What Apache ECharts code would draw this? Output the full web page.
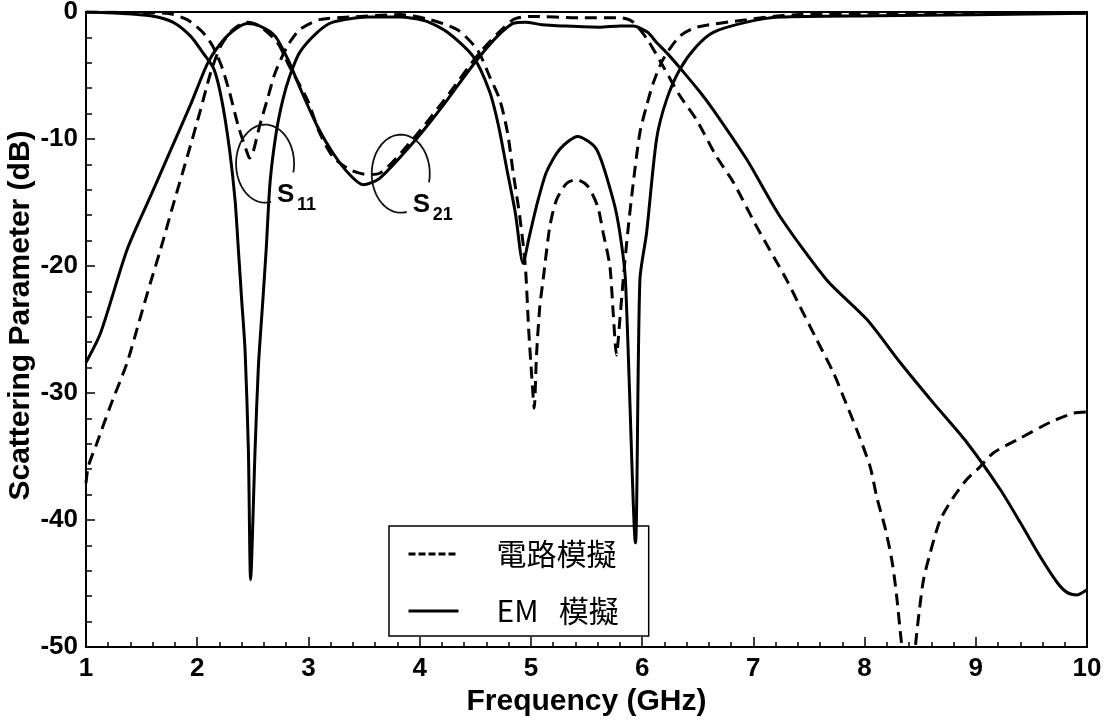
<!DOCTYPE html>
<html>
<head>
<meta charset="utf-8">
<script src="https://cdn.jsdelivr.net/npm/echarts@6/dist/echarts.min.js"></script>
<style>
  html, body { margin: 0; padding: 0; background: #fff; }
  #chart { width: 1112px; height: 724px; }
</style>
</head>
<body>
<div id="chart"></div>
<script>
// Frequency axis (GHz) and scattering parameter axis (dB)
const freqMin = 1, freqMax = 10, freqStep = 1;
const dbMin = -50, dbMax = 0, dbStep = 10;

// Legend names
const nameCircuit = '電路模擬';
const nameEM = 'EM   模擬';

// S11, circuit simulation
const s11CircuitFreq = [1.00, 1.50, 1.73, 1.91, 2.05, 2.14, 2.22, 2.29, 2.37, 2.45, 2.47, 2.50, 2.56, 2.63, 2.70, 2.81, 2.92, 3.10, 3.37, 3.82,
  4.09, 4.34, 4.52, 4.63, 4.72, 4.79, 4.84, 4.90, 4.95, 4.98, 5.01, 5.03, 5.05, 5.08, 5.11, 5.17, 5.23, 5.32, 5.41, 5.51,
  5.60, 5.65, 5.71, 5.74, 5.77, 5.80, 5.83, 5.87, 5.92, 5.98, 6.04, 6.10, 6.19, 6.34, 6.49, 6.94, 7.24, 7.42, 8.11, 10.00];
const s11CircuitDb = [0.0, -0.05, -0.1, -0.6, -1.6, -2.7, -4.3, -6.3, -9.0, -11.1, -11.5, -11.1, -9.0, -6.9, -4.8, -2.7, -1.4, -0.6, -0.4, -0.2,
  -0.6, -1.4, -3.0, -5.1, -6.9, -9.5, -12.6, -16.1, -20.0, -25.0, -29.0, -31.2, -27.1, -23.2, -21.1, -16.9, -14.8, -13.5, -13.2, -13.7,
  -15.3, -17.4, -20.0, -23.7, -27.0, -24.2, -21.1, -17.4, -13.5, -9.5, -7.4, -5.6, -3.7, -1.9, -1.2, -0.6, -0.3, -0.2, -0.1, -0.05];

// S21, circuit simulation
const s21CircuitFreq = [1.00, 1.02, 1.10, 1.22, 1.37, 1.49, 1.58, 1.67, 1.78, 1.91, 2.03, 2.12, 2.21, 2.32, 2.45, 2.56, 2.72, 2.83, 2.99, 3.10,
  3.22, 3.37, 3.53, 3.64, 3.94, 4.25, 4.54, 4.84, 4.99, 5.44, 5.80, 5.92, 6.05, 6.19, 6.34, 6.49, 6.67, 6.82, 7.03, 7.30,
  7.42, 7.57, 7.72, 7.81, 7.93, 8.05, 8.11, 8.19, 8.25, 8.29, 8.32, 8.36, 8.40, 8.44, 8.46, 8.49, 8.53, 8.59, 8.68, 8.80,
  8.92, 9.04, 9.16, 9.37, 9.67, 9.88, 10.00];
const s21CircuitDb = [-37.1, -35.8, -33.9, -31.0, -27.6, -24.0, -21.3, -18.7, -15.3, -11.4, -7.7, -4.8, -2.7, -1.4, -0.8, -1.1, -2.4, -4.3, -6.9, -9.5,
  -11.4, -12.4, -12.8, -12.7, -10.0, -6.6, -3.2, -0.6, -0.35, -0.45, -0.45, -0.8, -2.2, -4.3, -6.6, -8.5, -11.4, -13.4, -16.9, -21.1,
  -23.2, -25.8, -28.4, -30.3, -32.9, -35.8, -38.2, -40.8, -43.4, -46.1, -48.7, -52.0, -56.0, -52.0, -49.7, -47.3, -44.7, -42.6, -40.0, -38.2,
  -36.8, -35.8, -34.7, -33.7, -32.3, -31.6, -31.5];

// S11, EM simulation
const s11EmFreq = [1.00, 1.30, 1.58, 1.78, 1.94, 2.05, 2.15, 2.22, 2.29, 2.34, 2.37, 2.40, 2.43, 2.46, 2.48, 2.52, 2.55, 2.59, 2.62, 2.655,
  2.71, 2.77, 2.83, 2.92, 3.08, 3.22, 3.53, 3.82, 4.05, 4.25, 4.48, 4.63, 4.71, 4.78, 4.86, 4.93, 4.98, 5.05, 5.14, 5.26,
  5.42, 5.59, 5.74, 5.80, 5.85, 5.94, 5.98, 6.04, 6.13, 6.22, 6.34, 6.49, 6.64, 6.94, 7.24, 8.11, 10.00];
const s11EmDb = [0.0, -0.1, -0.3, -0.8, -1.9, -3.2, -4.5, -6.9, -10.8, -14.8, -18.7, -22.7, -26.6, -34.5, -44.7, -34.5, -27.9, -22.7, -18.7, -13.4,
  -9.5, -6.9, -5.1, -3.2, -1.6, -0.8, -0.4, -0.4, -0.7, -1.6, -3.5, -6.3, -9.0, -12.2, -15.8, -19.8, -17.9, -15.3, -12.6, -10.8,
  -9.8, -10.8, -14.8, -17.4, -21.1, -41.8, -21.1, -17.4, -10.0, -6.9, -4.5, -2.7, -1.6, -0.8, -0.4, -0.3, -0.1];

// S21, EM simulation
const s21EmFreq = [1.00, 1.13, 1.37, 1.58, 1.76, 1.94, 2.09, 2.20, 2.32, 2.45, 2.56, 2.70, 2.83, 2.92, 3.08, 3.22, 3.37, 3.49, 3.64, 3.94,
  4.10, 4.25, 4.40, 4.54, 4.70, 4.84, 4.95, 5.10, 5.29, 5.62, 5.80, 5.92, 6.05, 6.13, 6.22, 6.34, 6.52, 6.64, 6.94, 7.24,
  7.66, 8.02, 8.32, 8.62, 8.92, 9.22, 9.40, 9.58, 9.73, 9.82, 9.91, 10.00];
const s21EmDb = [-27.6, -25.3, -18.7, -14.5, -10.9, -7.3, -4.1, -2.6, -1.5, -0.9, -1.1, -1.9, -4.0, -5.9, -9.0, -11.1, -12.8, -13.6, -13.1, -10.3,
  -8.6, -6.9, -5.1, -3.5, -1.9, -0.9, -0.8, -1.0, -1.1, -1.2, -1.1, -1.1, -1.6, -2.4, -3.2, -4.4, -6.3, -7.7, -11.6, -16.1,
  -21.1, -24.2, -27.6, -30.8, -33.9, -37.6, -40.2, -42.9, -44.9, -45.7, -45.9, -45.5];

// Ring callouts marking the S11 and S21 curves: [freq, dB] of ring centre and label text
const ringCentres = [[2.61, -11.94], [3.83, -12.73]];
const ringLabels = [['S', '11'], ['S', '21']];

const pairs = (xs, ys) => xs.map((x, i) => [x, ys[i]]);

const latinFont = '"Liberation Sans", Arial, Helvetica, sans-serif';
const cjkFont = '"Noto Sans CJK TC", "Noto Sans CJK SC", sans-serif';

const chart = echarts.init(document.getElementById('chart'), null, { renderer: 'canvas' });

const dashedLine = { color: '#000', width: 3, type: [12, 7] };
const solidLine = { color: '#000', width: 3, type: 'solid' };

function curve(name, xs, ys, lineStyle) {
  return {
    name: name,
    type: 'line',
    data: pairs(xs, ys),
    symbol: 'none',
    smooth: 0.25,
    clip: true,
    lineStyle: lineStyle,
    itemStyle: { color: '#000' },
    emphasis: { disabled: true },
    animation: false
  };
}

chart.setOption({
  backgroundColor: '#fff',
  animation: false,
  grid: {
    left: 86, right: 25, top: 12, bottom: 77,
    containLabel: false, outerBoundsMode: 'none',
    show: true, borderColor: '#000', borderWidth: 2, backgroundColor: 'transparent'
  },
  xAxis: {
    type: 'value', min: freqMin, max: freqMax, interval: freqStep,
    name: 'Frequency (GHz)', nameLocation: 'middle', nameGap: 37,
    nameTextStyle: { fontFamily: latinFont, fontWeight: 'bold', fontSize: 30, color: '#000' },
    axisLine: { show: true, onZero: false, lineStyle: { color: '#000', width: 2 } },
    axisTick: { show: true, inside: true, length: 10, lineStyle: { color: '#000', width: 1.5 } },
    minorTick: { show: true, splitNumber: 5, length: 5, lineStyle: { color: '#000', width: 1.5 } },
    splitLine: { show: false },
    axisLabel: { fontFamily: latinFont, fontWeight: 'bold', fontSize: 26, color: '#000', margin: 9 }
  },
  yAxis: {
    type: 'value', min: dbMin, max: dbMax, interval: dbStep,
    name: 'Scattering Parameter (dB)', nameLocation: 'middle', nameGap: 50, nameRotate: 90,
    nameMoveOverlap: false,
    nameTextStyle: { fontFamily: latinFont, fontWeight: 'bold', fontSize: 30, color: '#000', padding: [0, 0, 0, 28] },
    axisLine: { show: true, onZero: false, lineStyle: { color: '#000', width: 2 } },
    axisTick: { show: true, inside: true, length: 9, lineStyle: { color: '#000', width: 1.5 } },
    minorTick: { show: true, splitNumber: 5, length: 6, lineStyle: { color: '#000', width: 1.5 } },
    splitLine: { show: false },
    axisLabel: { fontFamily: latinFont, fontWeight: 'bold', fontSize: 26, color: '#000', margin: 8 }
  },
  legend: {
    orient: 'vertical',
    left: 389, top: 526,
    padding: [13, 30, 10, 18],
    itemWidth: 50, itemHeight: 28, itemGap: 27,
    borderColor: '#000', borderWidth: 1.5,
    backgroundColor: 'transparent',
    selectedMode: false,
    itemStyle: { opacity: 0 },
    textStyle: { fontFamily: cjkFont, fontSize: 30, color: '#000', padding: [0, 0, 0, 33] },
    data: [
      { name: nameCircuit, lineStyle: { color: '#000', width: 3, type: [7, 3] } },
      { name: nameEM, lineStyle: { color: '#000', width: 3, type: 'solid' } }
    ]
  },
  series: [
    curve(nameCircuit, s11CircuitFreq, s11CircuitDb, dashedLine),
    curve(nameCircuit, s21CircuitFreq, s21CircuitDb, dashedLine),
    curve(nameEM, s11EmFreq, s11EmDb, solidLine),
    curve(nameEM, s21EmFreq, s21EmDb, solidLine)
  ]
});

// Open ring callouts with their S-parameter labels, placed through the axis scales
function ringGraphics() {
  const els = [];
  const rx = 29, ry = 39;
  const a0 = 78 * Math.PI / 180, a1 = 373 * Math.PI / 180;
  ringCentres.forEach((c, k) => {
    const p = chart.convertToPixel({ gridIndex: 0 }, c);
    const pts = [];
    for (let i = 0; i <= 80; i++) {
      const t = a0 + (a1 - a0) * i / 80;
      pts.push([p[0] + rx * Math.cos(t), p[1] + ry * Math.sin(t)]);
    }
    els.push({
      type: 'polyline', silent: true, z: 100,
      shape: { points: pts },
      style: { stroke: '#111', lineWidth: 1.8, fill: null }
    });
    els.push({
      type: 'text', silent: true, z: 100,
      x: p[0] + 12, y: p[1] + 31,
      style: { text: ringLabels[k][0], font: 'bold 26px ' + latinFont, fill: '#000',
               textAlign: 'left', textVerticalAlign: 'middle' }
    });
    els.push({
      type: 'text', silent: true, z: 100,
      x: p[0] + 32, y: p[1] + 41,
      style: { text: ringLabels[k][1], font: 'bold 18px ' + latinFont, fill: '#000',
               textAlign: 'left', textVerticalAlign: 'middle' }
    });
  });
  return els;
}

chart.setOption({ graphic: ringGraphics() });
</script>
</body>
</html>
